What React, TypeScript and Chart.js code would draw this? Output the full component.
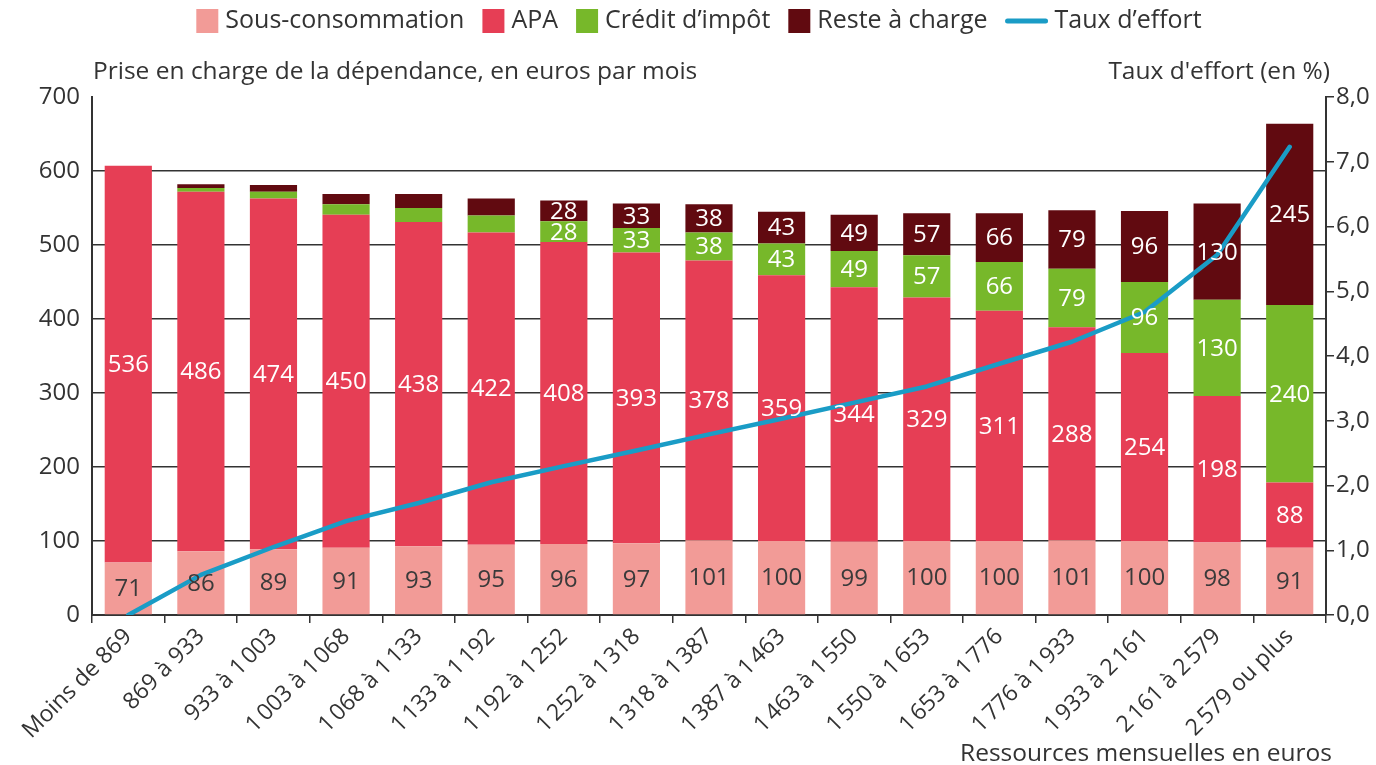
import React, { useEffect, useRef } from 'react';
import { Chart, registerables } from 'chart.js';

Chart.register(...registerables);

const S = '\u202F';
const categories = [
  `Moins de 869`, `869 à 933`, `933 à 1${S}003`, `1${S}003 à 1${S}068`, `1${S}068 à 1${S}133`,
  `1${S}133 à 1${S}192`, `1${S}192 à 1${S}252`, `1${S}252 à 1${S}318`, `1${S}318 à 1${S}387`, `1${S}387 à 1${S}463`,
  `1${S}463 à 1${S}550`, `1${S}550 à 1${S}653`, `1${S}653 à 1${S}776`, `1${S}776 à 1${S}933`, `1${S}933 à 2${S}161`,
  `2${S}161 à 2${S}579`, `2${S}579 ou plus`,
];
const sousConsommation = [71, 86, 89, 91, 93, 95, 96, 97, 101, 100, 99, 100, 100, 101, 100, 98, 91];
const apa = [536, 486, 474, 450, 438, 422, 408, 393, 378, 359, 344, 329, 311, 288, 254, 198, 88];
const creditImpot = [0, 5, 9, 14, 19, 23, 28, 33, 38, 43, 49, 57, 66, 79, 96, 130, 240];
const resteACharge = [0, 5, 9, 14, 19, 23, 28, 33, 38, 43, 49, 57, 66, 79, 96, 130, 245];
const tauxEffort = [0, 0.62, 1.05, 1.45, 1.73, 2.05, 2.3, 2.54, 2.79, 3.03, 3.28, 3.53, 3.88, 4.22, 4.68, 5.56, 7.23];
const leftTicks = [0, 100, 200, 300, 400, 500, 600, 700];
const rightTicks = [0, 1, 2, 3, 4, 5, 6, 7, 8];

const C_SOUS = '#F29B97';
const C_APA = '#E63E55';
const C_CREDIT = '#77B82A';
const C_RESTE = '#610A10';
const C_LINE = '#1A9CC6';
const TXT = '#333333';
const FONT = '"Open Sans", sans-serif';
const FS = 24;

const labelPlugin = {
  id: 'barLabels',
  afterDatasetsDraw(chart: any) {
    const ctx = chart.ctx;
    ctx.save();
    ctx.font = `${FS}px ${FONT}`;
    ctx.textAlign = 'center';
    ctx.textBaseline = 'middle';
    chart.data.datasets.forEach((ds: any, di: number) => {
      if (ds.type === 'line') return;
      const meta = chart.getDatasetMeta(di);
      meta.data.forEach((el: any, i: number) => {
        const v = ds.data[i];
        if (v < 25) return;
        const p = el.getProps(['x', 'y', 'base'], true);
        ctx.fillStyle = di === 0 ? '#3a3a3a' : '#ffffff';
        ctx.fillText(String(v), p.x, (p.y + p.base) / 2 + 1);
      });
    });
    ctx.restore();
  },
};

const textPlugin = {
  id: 'texts',
  afterDraw(chart: any) {
    const ctx = chart.ctx;
    const ca = chart.chartArea;
    ctx.save();
    ctx.font = `25px ${FONT}`;
    ctx.fillStyle = TXT;
    ctx.textBaseline = 'middle';
    const items = [
      { label: 'Sous-consommation', color: C_SOUS, line: false },
      { label: 'APA', color: C_APA, line: false },
      { label: 'Crédit d’impôt', color: C_CREDIT, line: false },
      { label: 'Reste à charge', color: C_RESTE, line: false },
      { label: 'Taux d’effort', color: C_LINE, line: true },
    ];
    const box = 22, gap = 7, itemGap = 18, lineW = 42;
    let total = 0;
    items.forEach((it, i) => {
      total += (it.line ? lineW : box) + gap + ctx.measureText(it.label).width + (i < items.length - 1 ? itemGap : 0);
    });
    let x = 699 - total / 2;
    const ly = 21;
    items.forEach((it) => {
      if (it.line) {
        ctx.strokeStyle = it.color;
        ctx.lineWidth = 5;
        ctx.lineCap = 'round';
        ctx.beginPath();
        ctx.moveTo(x + 2, ly);
        ctx.lineTo(x + lineW - 2, ly);
        ctx.stroke();
        x += lineW + gap;
      } else {
        ctx.fillStyle = it.color;
        ctx.fillRect(x, ly - 12, box, 24);
        x += box + gap;
      }
      ctx.fillStyle = TXT;
      ctx.textAlign = 'left';
      ctx.fillText(it.label, x, ly);
      x += ctx.measureText(it.label).width + itemGap;
    });
    ctx.font = `24.5px ${FONT}`;
    ctx.textAlign = 'left';
    ctx.fillText('Prise en charge de la dépendance, en euros par mois', ca.left + 1, 72);
    ctx.textAlign = 'right';
    ctx.fillText("Taux d'effort (en %)", ca.right + 4, 72);
    ctx.fillText('Ressources mensuelles en euros', ca.right + 6, chart.height - 11);
    ctx.restore();
  },
};

export default function App() {
  const ref = useRef<HTMLCanvasElement>(null);
  useEffect(() => {
    document.body.style.margin = '0';
    document.body.style.overflow = 'hidden';
    Chart.defaults.font.family = FONT;
    const barCommon = { type: 'bar' as const, yAxisID: 'y', stack: 's', order: 1, barPercentage: 0.65, categoryPercentage: 1, borderWidth: 0 };
    const chart = new Chart(ref.current as HTMLCanvasElement, {
      type: 'bar',
      data: {
        labels: categories,
        datasets: [
          { ...barCommon, label: 'Sous-consommation', data: sousConsommation, backgroundColor: C_SOUS },
          { ...barCommon, label: 'APA', data: apa, backgroundColor: C_APA },
          { ...barCommon, label: 'Crédit d’impôt', data: creditImpot, backgroundColor: C_CREDIT },
          { ...barCommon, label: 'Reste à charge', data: resteACharge, backgroundColor: C_RESTE },
          {
            type: 'line', label: 'Taux d’effort', data: tauxEffort, yAxisID: 'y1', order: 0,
            borderColor: C_LINE, borderWidth: 4.5, pointRadius: 0, tension: 0, fill: false,
            borderCapStyle: 'round', borderJoinStyle: 'round',
          } as any,
        ],
      },
      options: {
        responsive: true,
        maintainAspectRatio: false,
        animation: false,
        layout: { padding: { top: 97, left: 0, right: 0, bottom: 0 } },
        plugins: { legend: { display: false }, tooltip: { enabled: false }, title: { display: false } },
        scales: {
          x: {
            stacked: true,
            offset: true,
            afterFit: (s: any) => { s.height = 150; },
            grid: { drawOnChartArea: false, drawTicks: true, tickLength: 8, offset: true, color: TXT, lineWidth: 1.5 },
            border: { display: true, color: TXT, width: 2 },
            ticks: { autoSkip: false, minRotation: 45, maxRotation: 45, padding: 0, color: TXT, font: { size: 23, family: FONT } },
          },
          y: {
            stacked: true,
            position: 'left',
            min: 0,
            max: 700,
            afterFit: (s: any) => { s.width = 92; },
            afterBuildTicks: (s: any) => { s.ticks = leftTicks.map((v) => ({ value: v })); },
            grid: {
              drawTicks: false,
              color: (c: any) => (c.tick && (c.tick.value === 0 || c.tick.value === 700) ? 'rgba(0,0,0,0)' : TXT),
              lineWidth: 1.4,
            },
            border: { display: true, color: TXT, width: 2 },
            ticks: { padding: 12, color: TXT, font: { size: FS, family: FONT } },
          },
          y1: {
            position: 'right',
            min: 0,
            max: 8,
            afterFit: (s: any) => { s.width = 50; },
            afterBuildTicks: (s: any) => { s.ticks = rightTicks.map((v) => ({ value: v })); },
            grid: { drawOnChartArea: false, drawTicks: true, tickLength: 8, color: TXT, lineWidth: 1.5 },
            border: { display: true, color: TXT, width: 2 },
            ticks: {
              padding: 2,
              color: TXT,
              font: { size: FS, family: FONT },
              callback: (v: any) => Number(v).toFixed(1).replace('.', ','),
            },
          },
        },
      },
      plugins: [labelPlugin, textPlugin],
    } as any);
    return () => chart.destroy();
  }, []);
  return (
    <div style={{ position: 'relative', width: 1376, height: 765 }}>
      <canvas ref={ref} />
    </div>
  );
}
